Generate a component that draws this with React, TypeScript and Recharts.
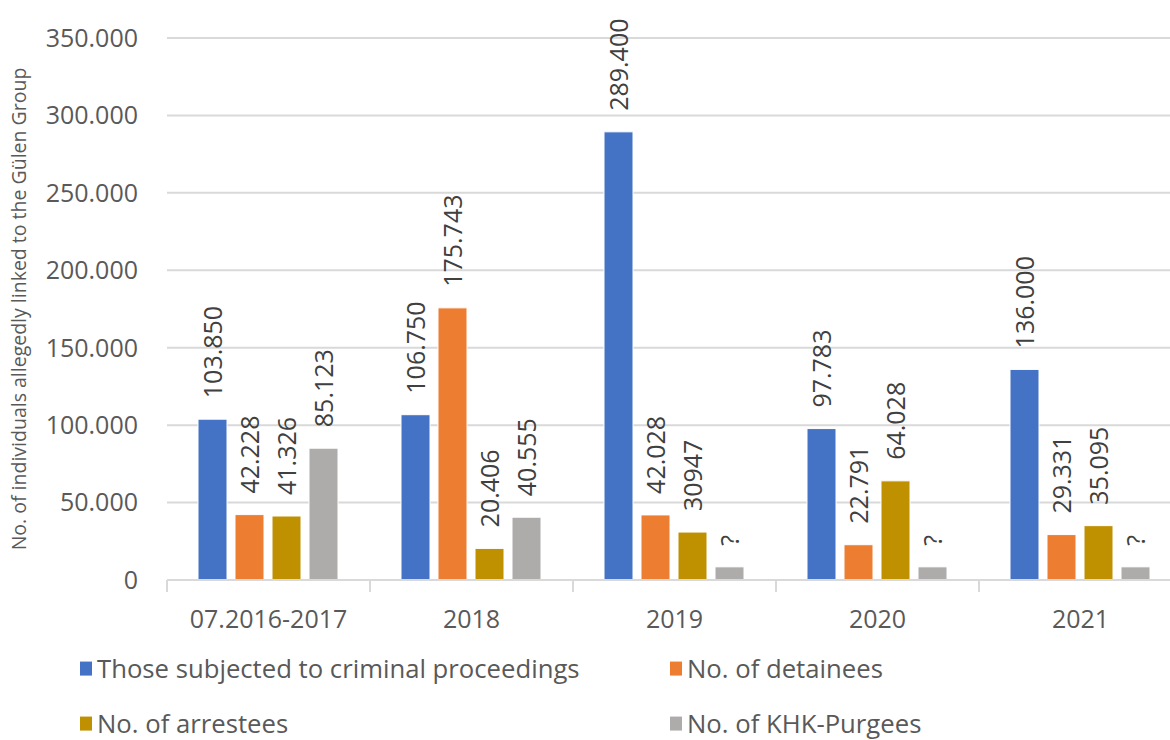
import React from "react";
import {
  BarChart,
  Bar,
  XAxis,
  YAxis,
  CartesianGrid,
  Legend,
  LabelList,
  Label,
} from "recharts";

const categories = ["07.2016-2017", "2018", "2019", "2020", "2021"];

const proceedings = [103850, 106750, 289400, 97783, 136000];
const detainees = [42228, 175743, 42028, 22791, 29331];
const arrestees = [41326, 20406, 30947, 64028, 35095];
// unknown KHK purges are drawn as small placeholder bars labelled "?"
const purgees = [85123, 40555, 8500, 8500, 8500];

const proceedingsLabels = ["103.850", "106.750", "289.400", "97.783", "136.000"];
const detaineesLabels = ["42.228", "175.743", "42.028", "22.791", "29.331"];
const arresteesLabels = ["41.326", "20.406", "30947", "64.028", "35.095"];
const purgeesLabels = ["85.123", "40.555", "?", "?", "?"];

const yTicks = [0, 50000, 100000, 150000, 200000, 250000, 300000, 350000];

const series = [
  { key: "proceedings", label: "proceedingsLabel", name: "Those subjected to criminal proceedings", color: "#4472C4" },
  { key: "detainees", label: "detaineesLabel", name: "No. of detainees", color: "#ED7D31" },
  { key: "arrestees", label: "arresteesLabel", name: "No. of arrestees", color: "#BF9000" },
  { key: "purgees", label: "purgeesLabel", name: "No. of KHK-Purgees", color: "#AEABAB" },
];

const data = categories.map((c, i) => ({
  category: c,
  proceedings: proceedings[i],
  detainees: detainees[i],
  arrestees: arrestees[i],
  purgees: purgees[i],
  proceedingsLabel: proceedingsLabels[i],
  detaineesLabel: detaineesLabels[i],
  arresteesLabel: arresteesLabels[i],
  purgeesLabel: purgeesLabels[i],
}));

const FONT = "'Open Sans', sans-serif";
const AXIS_TEXT = "#595959";
const GRID = "#D9D9D9";

const RotatedLabel = (props: any) => {
  const { x, y, width, value } = props;
  const cx = Number(x) + Number(width) / 2;
  const ty = Number(y) - 21;
  return (
    <text
      x={cx}
      y={ty}
      transform={`rotate(-90 ${cx} ${ty})`}
      textAnchor="start"
      dominantBaseline="central"
      fontSize={25}
      fontFamily={FONT}
      fill="#404040"
    >
      {value}
    </text>
  );
};

const CategoryTick = (props: any) => {
  const { x, y, payload, index, width, visibleTicksCount } = props;
  const half = Number(width) / (2 * (visibleTicksCount || categories.length));
  const isLast = index === (visibleTicksCount || categories.length) - 1;
  return (
    <g>
      <line x1={x - half} x2={x - half} y1={y} y2={y + 12} stroke={GRID} strokeWidth={2} />
      {isLast && <line x1={x + half} x2={x + half} y1={y} y2={y + 12} stroke={GRID} strokeWidth={2} />}
      <text x={x} y={y + 48} textAnchor="middle" fontSize={25} fontFamily={FONT} fill={AXIS_TEXT}>
        {payload.value}
      </text>
    </g>
  );
};

const LegendBox = () => (
  <div style={{ position: "relative", width: 1170, height: 100, fontFamily: FONT, fontSize: 25.7, color: AXIS_TEXT }}>
    {series.map((s, i) => (
      <div
        key={s.key}
        style={{
          position: "absolute",
          left: i % 2 === 0 ? 80 : 670,
          top: i < 2 ? 29 : 84,
          transform: "translateY(-50%)",
          display: "flex",
          alignItems: "center",
          whiteSpace: "nowrap",
          lineHeight: 1.2,
        }}
      >
        <span style={{ display: "inline-block", width: 12, height: 14, background: s.color, marginRight: 5 }} />
        <span>{s.name}</span>
      </div>
    ))}
  </div>
);

export default function App() {
  return (
    <div
      style={{
        position: "fixed",
        top: 0,
        left: 0,
        width: 1170,
        height: 740,
        overflow: "hidden",
        background: "#fff",
      }}
    >
      <BarChart
        width={1182}
        height={740}
        data={data}
        margin={{ top: 38, right: 0, left: 0, bottom: 0 }}
        barCategoryGap={31}
        barGap={8}
      >
        <CartesianGrid vertical={false} stroke={GRID} strokeWidth={2} />
        <XAxis
          dataKey="category"
          height={60}
          interval={0}
          tickSize={0}
          tickMargin={0}
          axisLine={{ stroke: GRID, strokeWidth: 2 }}
          tickLine={false}
          tick={<CategoryTick />}
        />
        <YAxis
          width={167}
          domain={[0, 350000]}
          ticks={yTicks}
          interval={0}
          axisLine={false}
          tickLine={false}
          tickMargin={23}
          tickFormatter={(v: number) => v.toLocaleString("de-DE")}
          tick={{ fontSize: 25, fontFamily: FONT, fill: AXIS_TEXT }}
        >
          <Label
            content={({ viewBox }: any) => {
              const cx = viewBox.x + 18;
              const cy = viewBox.y + viewBox.height / 2;
              return (
                <text
                  x={cx}
                  y={cy}
                  transform={`rotate(-90 ${cx} ${cy})`}
                  textAnchor="middle"
                  dominantBaseline="central"
                  fontSize={19.5}
                  fontFamily={FONT}
                  fill={AXIS_TEXT}
                >
                  No. of individuals allegedly linked to the Gülen Group
                </text>
              );
            }}
          />
        </YAxis>
        <Legend verticalAlign="bottom" height={100} content={<LegendBox />} wrapperStyle={{ left: 0, bottom: 0 }} />
        {series.map((s) => (
          <Bar key={s.key} dataKey={s.key} name={s.name} fill={s.color} stroke="#ffffff" strokeWidth={1} isAnimationActive={false}>
            <LabelList dataKey={s.label} content={<RotatedLabel />} />
          </Bar>
        ))}
      </BarChart>
    </div>
  );
}
